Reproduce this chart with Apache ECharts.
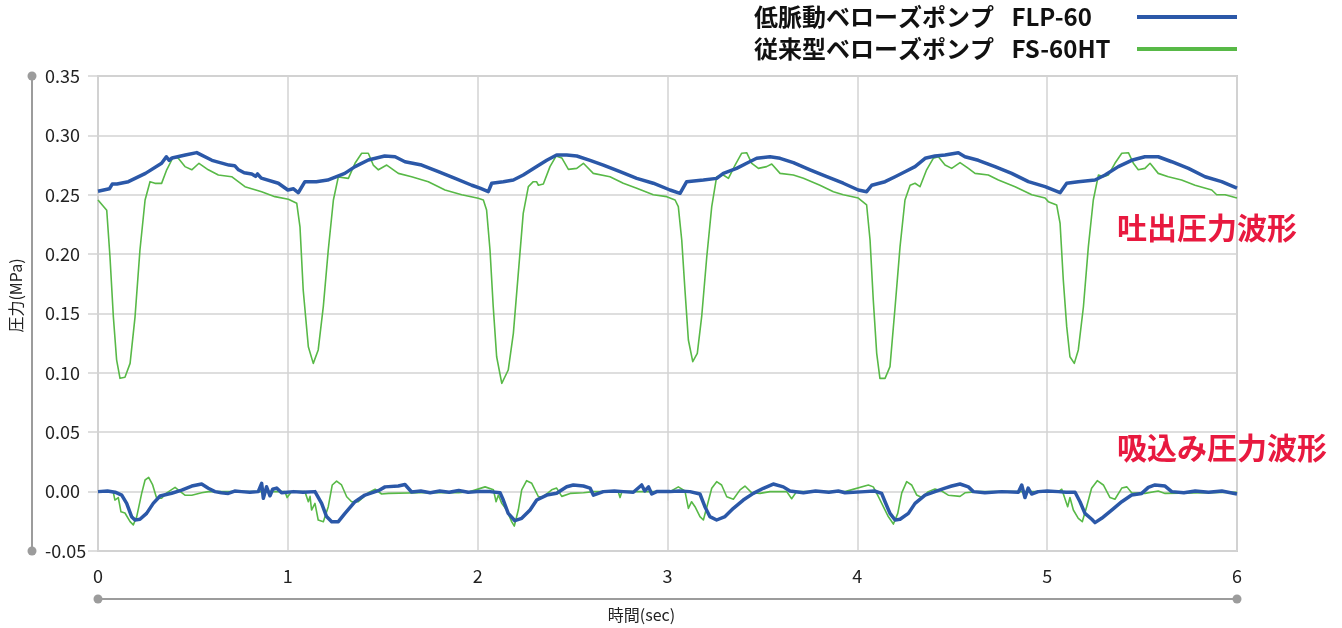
<!DOCTYPE html>
<html>
<head>
<meta charset="utf-8">
<script src="https://cdn.jsdelivr.net/npm/echarts@6/dist/echarts.min.js"></script>
<style>
html,body{margin:0;padding:0;background:#fff;}
#chart{width:1342px;height:628px;}
</style>
</head>
<body>
<div id="chart"></div>
<script>
// ---- data (time in sec, pressure in MPa) ----
const nameFLP = '低脈動ベローズポンプ\u2002 FLP-60';
const nameFS = '従来型ベローズポンプ\u2002 FS-60HT';
const labelDischarge = '吐出圧力波形';
const labelSuction = '吸込み圧力波形';

const flpDischarge = [[0.00,0.253],[0.03,0.254],[0.06,0.255],[0.075,0.259],[0.1,0.259],[0.16,0.261],[0.25,0.268],[0.335,0.2765],[0.36,0.282],[0.375,0.279],[0.39,0.281],[0.46,0.2835],[0.52,0.2855],[0.6,0.279],[0.69,0.275],[0.72,0.2745],[0.74,0.271],[0.77,0.2685],[0.81,0.2675],[0.83,0.2655],[0.84,0.2675],[0.86,0.264],[0.95,0.2597],[1.0,0.254],[1.03,0.255],[1.055,0.2517],[1.09,0.261],[1.15,0.261],[1.21,0.2624],[1.3,0.268],[1.354,0.2737],[1.424,0.2793],[1.51,0.2826],[1.565,0.282],[1.617,0.2778],[1.705,0.275],[1.793,0.2694],[1.881,0.2638],[1.969,0.258],[2.012,0.2555],[2.056,0.2526],[2.074,0.2597],[2.135,0.261],[2.188,0.2624],[2.24,0.2666],[2.311,0.2737],[2.364,0.279],[2.416,0.2835],[2.469,0.2835],[2.522,0.2826],[2.592,0.279],[2.662,0.275],[2.75,0.2694],[2.838,0.2638],[2.925,0.2597],[3.013,0.254],[3.066,0.2512],[3.101,0.261],[3.189,0.2624],[3.259,0.2638],[3.294,0.268],[3.364,0.2722],[3.417,0.2765],[3.47,0.2807],[3.54,0.282],[3.593,0.2807],[3.663,0.277],[3.751,0.271],[3.839,0.2652],[3.926,0.2597],[4.005,0.254],[4.049,0.2526],[4.076,0.258],[4.146,0.261],[4.199,0.2652],[4.251,0.2694],[4.304,0.2737],[4.357,0.2807],[4.409,0.2826],[4.462,0.2835],[4.532,0.2854],[4.567,0.282],[4.637,0.279],[4.725,0.2737],[4.813,0.268],[4.901,0.261],[4.989,0.2568],[5.068,0.2517],[5.103,0.2597],[5.164,0.261],[5.252,0.2624],[5.305,0.2666],[5.375,0.2737],[5.445,0.279],[5.515,0.282],[5.585,0.282],[5.656,0.2778],[5.744,0.2722],[5.832,0.2652],[5.919,0.261],[6.0,0.2555]];

const fsDischarge = [[0.0,0.2456],[0.01,0.2456],[0.046,0.237],[0.063,0.198],[0.081,0.147],[0.098,0.111],[0.116,0.0954],[0.142,0.0963],[0.169,0.108],[0.195,0.147],[0.221,0.2035],[0.248,0.2456],[0.274,0.261],[0.3,0.2596],[0.335,0.2596],[0.362,0.271],[0.397,0.282],[0.423,0.2807],[0.458,0.2737],[0.494,0.271],[0.532,0.2765],[0.581,0.271],[0.634,0.2666],[0.704,0.2652],[0.774,0.2568],[0.862,0.2526],[0.932,0.2484],[1.003,0.2462],[1.047,0.2428],[1.064,0.223],[1.081,0.1698],[1.108,0.122],[1.134,0.108],[1.16,0.1193],[1.187,0.156],[1.213,0.2035],[1.24,0.2456],[1.266,0.265],[1.319,0.2638],[1.354,0.2765],[1.389,0.285],[1.424,0.285],[1.45,0.275],[1.477,0.271],[1.521,0.275],[1.582,0.268],[1.652,0.2652],[1.74,0.261],[1.828,0.254],[1.916,0.25],[2.003,0.247],[2.03,0.2456],[2.047,0.2372],[2.065,0.2035],[2.082,0.1557],[2.1,0.1136],[2.127,0.0912],[2.161,0.1024],[2.188,0.1333],[2.214,0.1838],[2.24,0.2343],[2.267,0.2568],[2.293,0.261],[2.31,0.261],[2.32,0.258],[2.346,0.259],[2.381,0.2737],[2.413,0.2826],[2.443,0.281],[2.478,0.2714],[2.522,0.2722],[2.557,0.2765],[2.609,0.268],[2.697,0.2652],[2.767,0.2597],[2.838,0.2555],[2.925,0.25],[2.996,0.2484],[3.04,0.2456],[3.057,0.24],[3.075,0.2119],[3.092,0.1698],[3.11,0.1277],[3.133,0.1094],[3.157,0.1165],[3.18,0.1473],[3.207,0.198],[3.233,0.24],[3.259,0.2652],[3.294,0.2666],[3.321,0.2638],[3.356,0.275],[3.391,0.285],[3.417,0.2854],[3.444,0.2765],[3.479,0.2722],[3.522,0.2737],[3.549,0.2759],[3.593,0.268],[3.663,0.2666],[3.716,0.2638],[3.803,0.258],[3.874,0.2526],[3.926,0.25],[4.005,0.2472],[4.049,0.2414],[4.067,0.2119],[4.084,0.1614],[4.102,0.1165],[4.119,0.0954],[4.146,0.0954],[4.172,0.1053],[4.199,0.1557],[4.225,0.2063],[4.251,0.2456],[4.278,0.258],[4.304,0.2597],[4.33,0.2568],[4.365,0.271],[4.4,0.2807],[4.427,0.282],[4.462,0.275],[4.497,0.2722],[4.541,0.277],[4.585,0.2722],[4.62,0.268],[4.69,0.2666],[4.743,0.2624],[4.831,0.2568],[4.919,0.25],[4.989,0.2472],[5.006,0.2442],[5.05,0.2414],[5.068,0.226],[5.085,0.1782],[5.103,0.1389],[5.12,0.1136],[5.143,0.108],[5.164,0.1193],[5.191,0.1557],[5.217,0.2063],[5.243,0.2456],[5.27,0.2666],[5.296,0.2652],[5.322,0.2666],[5.357,0.2765],[5.393,0.285],[5.428,0.2854],[5.454,0.2765],[5.48,0.271],[5.515,0.2722],[5.542,0.2765],[5.585,0.268],[5.638,0.2652],[5.708,0.2624],[5.779,0.258],[5.867,0.254],[5.893,0.25],[5.937,0.25],[6.0,0.2472]];

const flpSuction = [[0,0],[0.05,0.0005],[0.09,-0.0005],[0.125,-0.003],[0.151,-0.0099],[0.177,-0.0211],[0.195,-0.0239],[0.221,-0.0233],[0.256,-0.0183],[0.291,-0.0099],[0.327,-0.0037],[0.388,-0.0014],[0.441,0.0013],[0.494,0.0047],[0.546,0.0064],[0.581,0.0028],[0.616,0],[0.65,-0.001],[0.686,-0.0015],[0.72,0.0005],[0.756,0],[0.8,-0.0005],[0.844,0],[0.862,0.007],[0.871,-0.0056],[0.888,0.0041],[0.906,-0.0035],[0.92,0.002],[0.941,0.003],[0.967,-0.001],[1.03,0],[1.08,-0.0005],[1.143,0],[1.178,-0.0099],[1.204,-0.021],[1.231,-0.0253],[1.266,-0.0253],[1.301,-0.0183],[1.354,-0.0085],[1.406,-0.0029],[1.477,0.0008],[1.512,0.004],[1.582,0.0047],[1.617,0.006],[1.652,-0.0003],[1.7,0.0005],[1.75,-0.001],[1.8,0.0005],[1.85,-0.0005],[1.9,0.001],[1.95,-0.0005],[2.0,0],[2.065,0],[2.118,-0.001],[2.135,-0.0071],[2.161,-0.0183],[2.196,-0.0245],[2.232,-0.0225],[2.276,-0.0155],[2.311,-0.0071],[2.364,-0.0029],[2.416,-0.0014],[2.469,0.0041],[2.504,0.0056],[2.557,0.0047],[2.592,0.003],[2.61,-0.003],[2.662,0],[2.72,0.0005],[2.767,0],[2.82,-0.0005],[2.864,0.0056],[2.88,0.0005],[2.9,0.004],[2.917,-0.002],[2.943,0],[3.013,0],[3.06,0.0005],[3.118,0],[3.171,-0.002],[3.197,-0.0127],[3.223,-0.021],[3.259,-0.0239],[3.303,-0.021],[3.347,-0.0141],[3.399,-0.0071],[3.452,-0.0015],[3.505,0.0028],[3.557,0.0064],[3.61,0.004],[3.645,0.0005],[3.716,-0.001],[3.78,0.0005],[3.85,-0.0005],[3.9,0.0005],[3.935,-0.001],[4.04,0],[4.09,0.0005],[4.128,-0.0015],[4.146,-0.0085],[4.172,-0.0183],[4.199,-0.0239],[4.225,-0.0233],[4.269,-0.0183],[4.304,-0.0099],[4.357,-0.0029],[4.409,0],[4.462,0.003],[4.497,0.0047],[4.541,0.0064],[4.585,0.004],[4.611,0],[4.672,-0.001],[4.76,0],[4.848,-0.0005],[4.866,0.0056],[4.883,-0.005],[4.9,0.003],[4.918,-0.002],[4.953,0],[5.0,0.0005],[5.059,0],[5.1,-0.0005],[5.147,-0.0005],[5.173,-0.0085],[5.199,-0.0183],[5.235,-0.0233],[5.252,-0.0261],[5.287,-0.0225],[5.34,-0.0155],[5.393,-0.0085],[5.445,-0.0029],[5.498,-0.0015],[5.533,0.0036],[5.568,0.0056],[5.621,0.0047],[5.656,0],[5.72,-0.001],[5.78,0.0005],[5.85,-0.0005],[5.92,0.0005],[6.0,-0.002]];

const fsSuction = [[0,0],[0.08,0],[0.089,-0.0071],[0.107,-0.005],[0.121,-0.017],[0.142,-0.018],[0.169,-0.0253],[0.186,-0.028],[0.204,-0.021],[0.23,-0.0015],[0.248,0.0098],[0.267,0.012],[0.288,0.0056],[0.309,-0.0056],[0.335,-0.0056],[0.362,-0.001],[0.406,0.0036],[0.432,0.0003],[0.458,-0.003],[0.494,-0.003],[0.546,-0.001],[0.581,0],[0.7,0],[0.8,0],[0.9,0],[0.985,0],[0.996,-0.005],[1.02,0],[1.09,0],[1.108,-0.0085],[1.117,-0.004],[1.125,-0.0155],[1.143,-0.0099],[1.16,-0.0239],[1.187,-0.0253],[1.213,-0.0127],[1.234,0.0056],[1.257,0.0089],[1.283,0.0056],[1.31,-0.0043],[1.336,-0.0085],[1.371,-0.0085],[1.424,-0.001],[1.46,0.002],[1.494,-0.002],[1.53,-0.0015],[1.7,-0.001],[1.9,-0.001],[1.96,0],[2.039,0.004],[2.083,0.0015],[2.097,-0.0085],[2.109,-0.0029],[2.127,-0.0099],[2.153,-0.0155],[2.179,-0.0253],[2.193,-0.029],[2.214,-0.0155],[2.232,0.0015],[2.258,0.0092],[2.285,0.007],[2.32,-0.0043],[2.346,-0.0043],[2.39,0.0015],[2.416,0.003],[2.443,-0.004],[2.487,-0.0015],[2.557,-0.001],[2.61,0],[2.74,0],[2.75,-0.005],[2.76,0],[3.013,0],[3.057,0.004],[3.092,0.0005],[3.11,-0.0141],[3.127,-0.0085],[3.145,-0.0127],[3.171,-0.021],[3.189,-0.0239],[3.21,-0.0113],[3.233,0.0028],[3.259,0.0084],[3.285,0.0056],[3.312,-0.0043],[3.347,-0.0064],[3.382,0.0015],[3.408,0.0047],[3.444,-0.001],[3.487,-0.0015],[3.54,0],[3.628,0],[3.654,-0.006],[3.68,0],[3.935,0],[4.058,0.0056],[4.084,0.004],[4.111,-0.0043],[4.137,-0.0127],[4.163,-0.021],[4.19,-0.0273],[4.213,-0.0183],[4.234,-0.001],[4.26,0.0084],[4.286,0.0056],[4.313,-0.0029],[4.339,-0.005],[4.374,0],[4.409,0.0022],[4.444,0.0005],[4.479,-0.003],[4.541,-0.004],[4.567,-0.001],[4.637,0],[5.059,0],[5.077,0.002],[5.108,-0.0127],[5.12,-0.005],[5.138,-0.0155],[5.164,-0.0225],[5.185,-0.0253],[5.208,-0.0127],[5.234,0.0028],[5.264,0.0092],[5.296,0.0056],[5.331,-0.005],[5.357,-0.0064],[5.393,0.003],[5.42,0.004],[5.445,-0.001],[5.515,-0.0015],[5.585,0.0005],[5.621,-0.0015],[6.0,-0.0005]];

// axis ranges
const xMin = 0, xMax = 6, xStep = 1;
const yMin = -0.05, yMax = 0.35, yStep = 0.05;

// ---- styles ----
const BLUE = '#2b58a8';
const GREEN = '#58b947';
const RED = '#e8193f';
const AXIS_GRAY = '#9c9c9c';
const GRID_GRAY = '#d3d3d3';
const FONT = '"Noto Sans CJK JP", "Noto Sans", sans-serif';

const chart = echarts.init(document.getElementById('chart'), null, {renderer: 'canvas'});

function lineSeries(name, data, color, width) {
  return {
    type: 'line', name: name, data: data,
    xAxisIndex: 0, yAxisIndex: 0,
    showSymbol: false, symbol: 'none',
    lineStyle: {color: color, width: width, join: 'round'},
    itemStyle: {color: color},
    animation: false
  };
}

chart.setOption({
  backgroundColor: '#fff',
  textStyle: {fontFamily: FONT},
  animation: false,
  grid: {left: 98, right: 105, top: 76, bottom: 77, show: true, borderColor: '#cdcdcd', borderWidth: 2, containLabel: false},
  legend: {
    data: [nameFLP, nameFS],
    orient: 'vertical', right: 105, top: 5, align: 'right', padding: 0,
    icon: 'rect', itemWidth: 100, itemHeight: 4, itemGap: 8,
    formatter: function (n) { return '{t|' + n + '}'; },
    textStyle: {
      fontSize: 24, fontWeight: 'bold', color: '#111', fontFamily: FONT,
      rich: {t: {width: 378, align: 'left', fontSize: 24, fontWeight: 'bold', color: '#111', lineHeight: 28, fontFamily: FONT}}
    }
  },
  xAxis: [{
    type: 'value', min: xMin, max: xMax, interval: xStep, position: 'bottom',
    axisLine: {show: false},
    axisTick: {show: true, length: 9, lineStyle: {color: GRID_GRAY, width: 1.5}},
    axisLabel: {margin: 16, fontSize: 18, color: '#222', fontFamily: FONT},
    splitLine: {show: true, lineStyle: {color: GRID_GRAY, width: 1.5}}
  }, {
    type: 'value', min: xMin, max: xMax, interval: xStep, position: 'bottom', offset: 48,
    axisLine: {show: true, onZero: false, symbol: ['circle', 'circle'], symbolSize: [9, 9], lineStyle: {color: AXIS_GRAY, width: 2}},
    axisTick: {show: false}, axisLabel: {show: false}, splitLine: {show: false},
    name: '時間(sec)', nameLocation: 'middle', nameGap: 8,
    nameTextStyle: {fontSize: 16, color: '#222', fontFamily: FONT, padding: [0, 52, 0, 0]}
  }],
  yAxis: [{
    type: 'value', min: yMin, max: yMax, interval: yStep, position: 'left',
    axisLine: {show: false},
    axisTick: {show: true, length: 10, lineStyle: {color: GRID_GRAY, width: 1.5}},
    axisLabel: {show: false},
    splitLine: {show: true, lineStyle: {color: GRID_GRAY, width: 1.5}}
  }, {
    type: 'value', min: yMin, max: yMax, interval: yStep, position: 'left', offset: 66,
    axisLine: {show: true, onZero: false, symbol: ['circle', 'circle'], symbolSize: [9, 9], lineStyle: {color: AXIS_GRAY, width: 2}},
    axisTick: {show: false},
    axisLabel: {inside: true, margin: 13, fontSize: 18, color: '#222', fontFamily: FONT,
      formatter: function (v) { return v.toFixed(2); }},
    splitLine: {show: false},
    name: '圧力(MPa)', nameLocation: 'middle', nameGap: 8, nameRotate: 90,
    nameTextStyle: {fontSize: 16, color: '#222', fontFamily: FONT, padding: [0, 0, 0, 36]}
  }],
  series: [
    lineSeries(nameFS, fsDischarge, GREEN, 1.6),
    lineSeries(nameFS, fsSuction, GREEN, 1.6),
    lineSeries(nameFLP, flpDischarge, BLUE, 3.5),
    lineSeries(nameFLP, flpSuction, BLUE, 3.5)
  ],
  graphic: [
    {type: 'text', left: 1117, top: 213, silent: true,
      style: {text: labelDischarge, fill: RED, font: 'bold 30px ' + FONT}},
    {type: 'text', left: 1117, top: 433, silent: true,
      style: {text: labelSuction, fill: RED, font: 'bold 30px ' + FONT}}
  ]
});
</script>
</body>
</html>
